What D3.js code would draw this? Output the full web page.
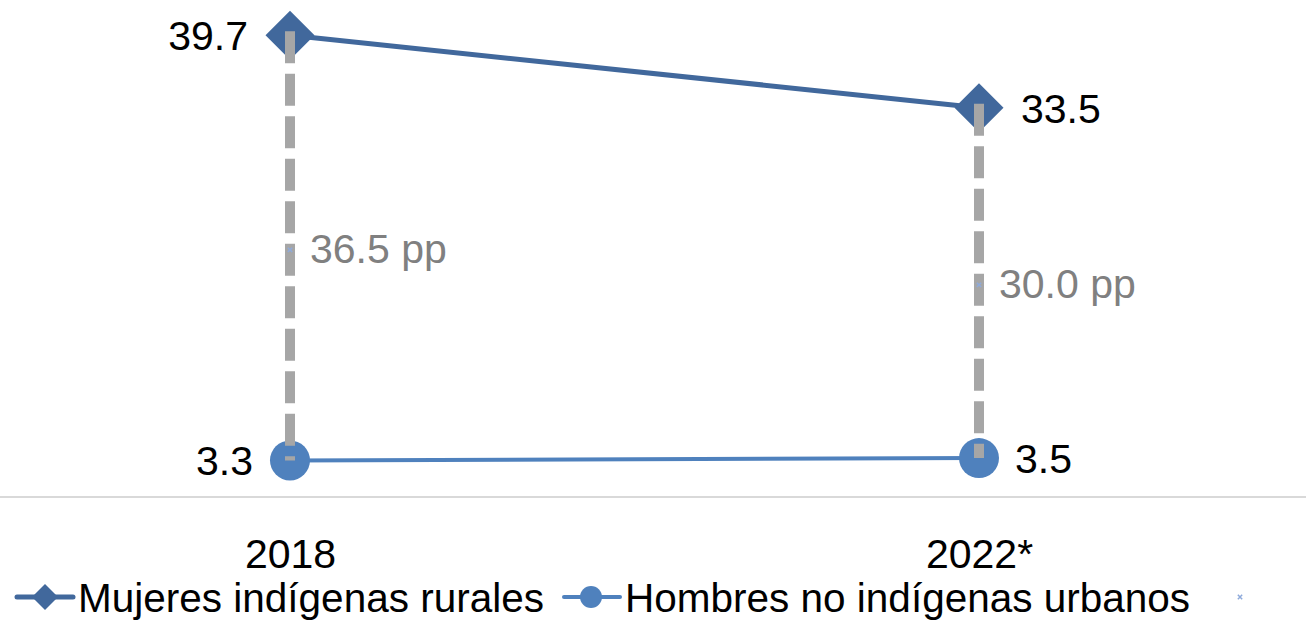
<!DOCTYPE html>
<html>
<head>
<meta charset="utf-8">
<script src="https://cdn.jsdelivr.net/npm/d3@7"></script>
<style>
  html, body { margin: 0; padding: 0; background: #fff; }
  svg { display: block; font-family: "Liberation Sans", Arial, sans-serif; }
</style>
</head>
<body>
<svg id="chart" width="1306" height="620"></svg>
<script>
const years = ["2018", "2022*"];
const mujeres = [39.7, 33.5];
const hombres = [3.3, 3.5];
const gapLabels = ["36.5 pp", "30.0 pp"];
const seriesNames = ["Mujeres indígenas rurales", "Hombres no indígenas urbanos"];

const W = 1306, H = 620;
const svg = d3.select("#chart");

const x = d3.scalePoint().domain(years).range([290, 979]);
const y = d3.scaleLinear().domain([0, 40]).range([499, 499 - 40 * 11.68]);

const cDiamond = "#41689c";
const cCircle = "#4f81bd";
const cGap = "#a6a6a6";

// baseline axis
svg.append("line")
  .attr("x1", 0).attr("x2", W)
  .attr("y1", 497).attr("y2", 497)
  .attr("stroke", "#d9d9d9").attr("stroke-width", 2);

// x axis labels
const xAxis = svg.append("g")
  .attr("transform", "translate(0,497)")
  .call(d3.axisBottom(x).tickSize(0).tickPadding(41.5));
xAxis.select(".domain").remove();
xAxis.selectAll("text")
  .attr("font-size", 41)
  .attr("font-family", "'Liberation Sans', Arial, sans-serif")
  .attr("fill", "#000");

// series lines
const line = d3.line().x((d, i) => x(years[i])).y(d => y(d));
svg.append("path").datum(mujeres)
  .attr("d", line).attr("fill", "none")
  .attr("stroke", cDiamond).attr("stroke-width", 5);
svg.append("path").datum(hombres)
  .attr("d", line).attr("fill", "none")
  .attr("stroke", cCircle).attr("stroke-width", 4);

// markers
const diamond = d3.symbol().type(d3.symbolDiamond2).size(1530);
svg.selectAll(".dm").data(mujeres).join("path")
  .attr("transform", (d, i) => `translate(${x(years[i])},${y(d)})`)
  .attr("d", diamond).attr("fill", cDiamond);
svg.selectAll(".ci").data(hombres).join("circle")
  .attr("cx", (d, i) => x(years[i])).attr("cy", d => y(d))
  .attr("r", 20).attr("fill", cCircle);

// gap dashed lines
svg.selectAll(".gap").data(years).join("line")
  .attr("x1", d => x(d)).attr("x2", d => x(d))
  .attr("y1", (d, i) => y(mujeres[i]) - 4)
  .attr("y2", (d, i) => y(hombres[i]))
  .attr("stroke", cGap).attr("stroke-width", 10)
  .attr("stroke-dasharray", "32,10.5");

// tiny markers at gap midpoints
years.forEach((yr, i) => {
  const mid = y((mujeres[i] + hombres[i]) / 2) + 2;
  svg.append("path")
    .attr("transform", `translate(${x(yr)},${mid})`)
    .attr("d", d3.symbol().type(d3.symbolX).size(14))
    .attr("stroke", "#8eaadb").attr("stroke-width", 1.5).attr("fill", "none");
});

// gap labels
svg.selectAll(".gapLbl").data(gapLabels).join("text")
  .attr("x", (d, i) => x(years[i]) + 20)
  .attr("y", (d, i) => y((mujeres[i] + hombres[i]) / 2) + 15)
  .attr("font-size", 41).attr("fill", "#808080")
  .text(d => d);

// value labels
svg.selectAll(".vm").data(mujeres).join("text")
  .attr("x", (d, i) => x(years[i]) + (i === 0 ? -42 : 42))
  .attr("y", d => y(d) + 15)
  .attr("text-anchor", (d, i) => i === 0 ? "end" : "start")
  .attr("font-size", 41).attr("fill", "#000")
  .text(d => d.toFixed(1));
svg.selectAll(".vh").data(hombres).join("text")
  .attr("x", (d, i) => x(years[i]) + (i === 0 ? -37 : 36))
  .attr("y", d => y(d) + 15)
  .attr("text-anchor", (d, i) => i === 0 ? "end" : "start")
  .attr("font-size", 41).attr("fill", "#000")
  .text(d => d.toFixed(1));

// legend
const ly = 597;
const lg = svg.append("g");
lg.append("line").attr("x1", 17).attr("x2", 73).attr("y1", ly).attr("y2", ly)
  .attr("stroke", cDiamond).attr("stroke-width", 5).attr("stroke-linecap", "round");
lg.append("path").attr("transform", `translate(45,${ly})`)
  .attr("d", d3.symbol().type(d3.symbolDiamond2).size(431)).attr("fill", cDiamond);
lg.append("text").attr("x", 78).attr("y", ly + 14.5)
  .attr("font-size", 40.5).attr("fill", "#000").text(seriesNames[0]);

lg.append("line").attr("x1", 564).attr("x2", 620).attr("y1", ly).attr("y2", ly)
  .attr("stroke", cCircle).attr("stroke-width", 4).attr("stroke-linecap", "round");
lg.append("circle").attr("cx", 591).attr("cy", ly).attr("r", 11).attr("fill", cCircle);
lg.append("text").attr("x", 625).attr("y", ly + 14.5)
  .attr("font-size", 40.5).attr("fill", "#000").text(seriesNames[1]);

lg.append("path").attr("transform", `translate(1240,${ly})`)
  .attr("d", d3.symbol().type(d3.symbolX).size(14))
  .attr("stroke", "#8eaadb").attr("stroke-width", 1.5).attr("fill", "none");
</script>
</body>
</html>
